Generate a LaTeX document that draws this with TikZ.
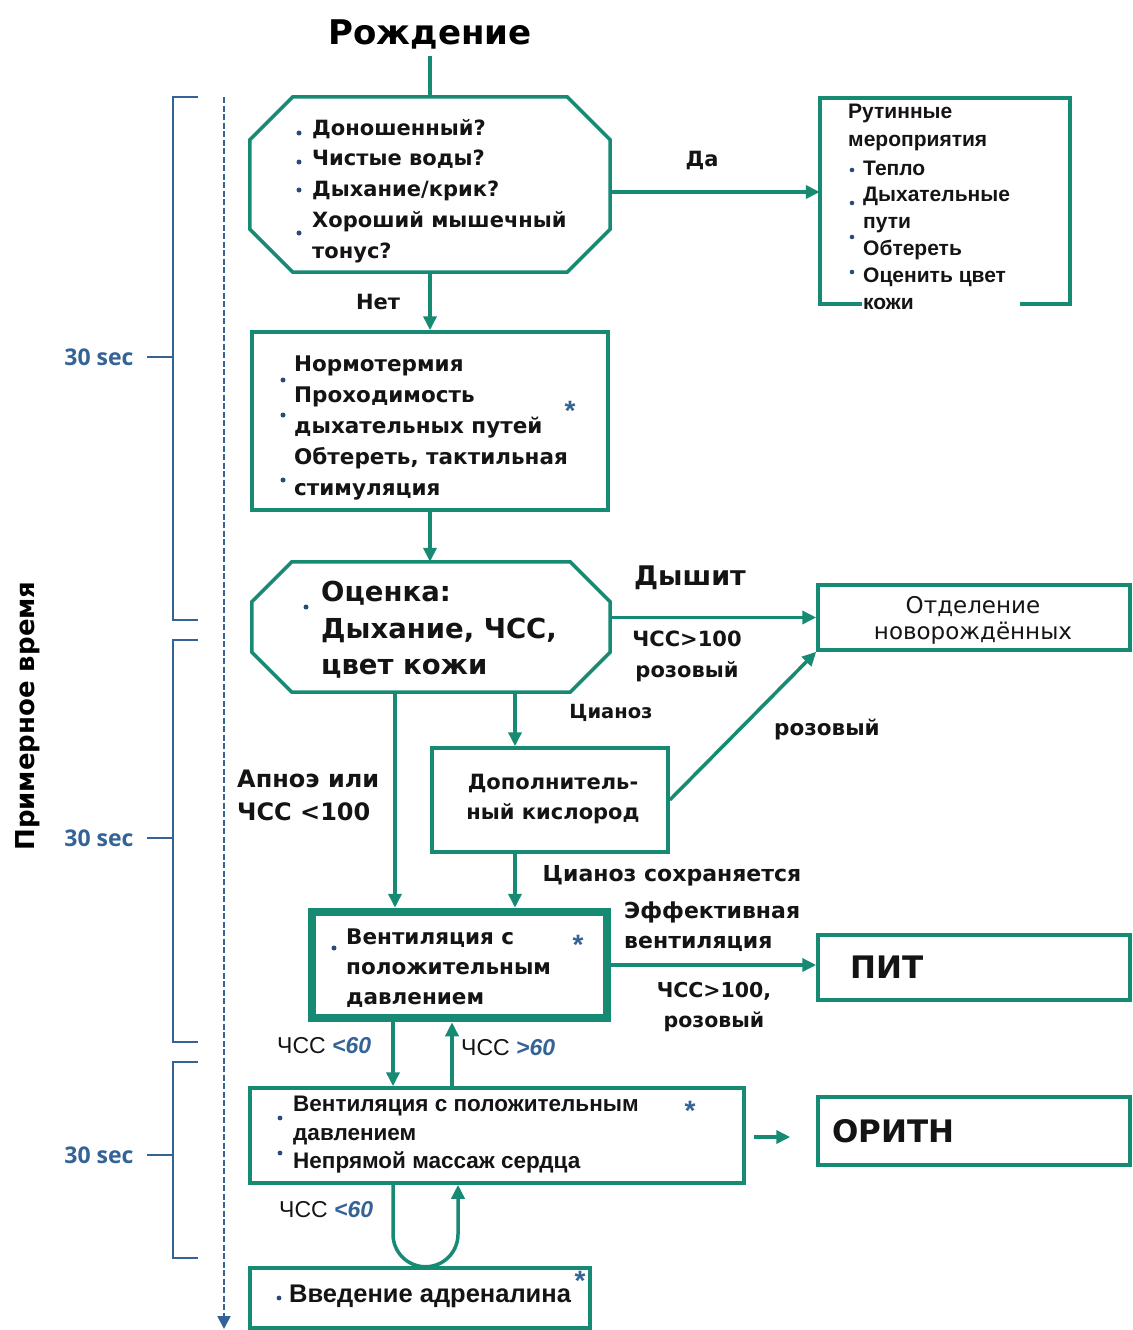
\documentclass[tikz,border=0pt]{standalone}
\usepackage{fontspec}
\setmainfont{DejaVu Sans}
\newfontfamily\lib{Liberation Sans}
\newfontfamily\secfont{Open Sans}
\usetikzlibrary{arrows.meta,calc}
\definecolor{gr}{RGB}{22,138,114}
\definecolor{bl}{RGB}{52,100,150}
\definecolor{dotc}{RGB}{40,75,120}
\newcommand\myfs[2]{\fontsize{#1pt}{#2pt}\selectfont}
\begin{document}
\begin{tikzpicture}[x=1pt,y=-1pt,
  arr/.style={draw=gr,line width=3.5pt,-{Triangle[length=14pt,width=13pt]}},
  ln/.style={draw=gr,line width=3.5pt},
  frame/.style={rectangle,draw=gr,line width=3.5pt,inner sep=0pt},
  ghost/.style={rectangle,draw=none,inner sep=0pt},
  txt/.style={inner sep=0pt,align=left,anchor=west,text=black!92},
  ctxt/.style={inner sep=0pt,align=center,text=black!92},
  bul/.style={fill=dotc},
  ast/.style={text=bl,font=\lib\bfseries\myfs{28}{28},inner sep=0pt},
  brk/.style={draw=bl,line width=2.8pt},
  sec/.style={text=bl,font=\secfont\bfseries\myfs{23}{23},inner sep=0pt}
]
\useasboundingbox[fill=white] (0,0) rectangle (1132,1330);

% ---------- timeline ----------
\coordinate (t0) at (224,97);
\coordinate (t1) at (224,1329);
\draw[draw=bl,line width=2.4pt,dash pattern=on 6pt off 2.5pt,-{Triangle[length=13pt,width=13pt]}] (t0) -- (t1);
\draw[brk] (198,97) -- (173,97) -- (173,620) -- (198,620);
\draw[brk] (147,357) -- (173,357);
\draw[brk] (198,640) -- (173,640) -- (173,1042) -- (198,1042);
\draw[brk] (147,838) -- (173,838);
\draw[brk] (198,1062) -- (173,1062) -- (173,1258) -- (198,1258);
\draw[brk] (147,1155) -- (173,1155);
\node[sec] (s1) at (99,357) {30 sec};
\node[sec] (s2) at (99,838) {30 sec};
\node[sec] (s3) at (99,1155) {30 sec};
\node[inner sep=0pt,rotate=90,font=\bfseries\myfs{26}{26}] (tm) at (28,716) {Примерное время};

% ---------- title ----------
\node[inner sep=2pt,font=\bfseries\myfs{34}{34}] (birth) at (430,34) {Рождение};

% ---------- box 1 (octagon) ----------
\node[ghost,minimum width=360pt,minimum height=175pt] (q) at (430,184.5) {};
\draw[ln] ([xshift=43pt]q.north west) -- ([xshift=-43pt]q.north east) -- ([yshift=-43pt]q.north east)
  -- ([yshift=43pt]q.south east) -- ([xshift=-43pt]q.south east) -- ([xshift=43pt]q.south west)
  -- ([yshift=43pt]q.south west) -- ([yshift=-43pt]q.north west) -- cycle;
\node[txt,font=\bfseries\myfs{21}{30.8}] (qt) at (312,191) {Доношенный?\\Чистые воды?\\Дыхание/крик?\\Хороший мышечный\\тонус?};
\foreach \yy in {133,162,190,233} \fill[bul] (299,\yy) circle (2.5pt);

% ---------- box 2 routine ----------
\node[ghost,minimum width=250pt,minimum height=206pt] (routine) at (945,201) {};
\draw[ln] ([xshift=42pt]routine.south west) -- (routine.south west) -- (routine.north west)
  -- (routine.north east) -- (routine.south east) -- ([xshift=-50pt]routine.south east);
\node[txt,font=\lib\bfseries\myfs{21}{28.5}] (rh) at (848,127.5) {Рутинные\\мероприятия};
\node[txt,font=\lib\bfseries\myfs{21}{26.8}] (ri) at (863,235) {Тепло\\Дыхательные\\пути\\Обтереть\\Оценить цвет\\кожи};
\foreach \yy in {170,203,237,272} \fill[bul] (852,\yy) circle (2.3pt);

% ---------- box 3 ----------
\node[frame,minimum width=356pt,minimum height=178pt] (steps) at (430,421) {};
\node[txt,font=\bfseries\myfs{21.5}{31}] (st) at (294,428) {Нормотермия\\Проходимость\\дыхательных путей\\Обтереть, тактильная\\стимуляция};
\foreach \yy in {380,415,480} \fill[bul] (283,\yy) circle (2.5pt);
\node[ast] (a1) at (570,411) {*};

% ---------- box 4 evaluation (octagon) ----------
\node[ghost,minimum width=358pt,minimum height=130pt] (eval) at (431,627) {};
\draw[ln] ([xshift=40pt]eval.north west) -- ([xshift=-40pt]eval.north east) -- ([yshift=-40pt]eval.north east)
  -- ([yshift=40pt]eval.south east) -- ([xshift=-40pt]eval.south east) -- ([xshift=40pt]eval.south west)
  -- ([yshift=40pt]eval.south west) -- ([yshift=-40pt]eval.north west) -- cycle;
\node[txt,font=\bfseries\myfs{27.5}{36.5}] (et) at (321,630) {Оценка:\\Дыхание, ЧСС,\\цвет кожи};
\fill[bul] (306,607) circle (2.5pt);

% ---------- box 5 nicu ----------
\node[frame,minimum width=312pt,minimum height=65pt] (nicu) at (974,617.5) {};
\node[ctxt,font=\myfs{23}{26}] (nt) at (973,620) {Отделение\\новорождённых};

% ---------- box O2 ----------
\node[frame,minimum width=236pt,minimum height=104pt] (oxy) at (550,800) {};
\node[ctxt,font=\bfseries\myfs{21}{30}] (ot) at (553,799) {Дополнитель-\\ный кислород};

% ---------- box 6 PPV ----------
\node[rectangle,draw=gr,line width=8.5pt,inner sep=0pt,minimum width=295pt,minimum height=106pt] (ppv) at (459.5,965) {};
\node[txt,font=\bfseries\myfs{21.5}{30}] (pt) at (346,968) {Вентиляция с\\положительным\\давлением};
\fill[bul] (334,948) circle (2.5pt);
\node[ast] (a2) at (578,945) {*};

% ---------- box 7 PIT ----------
\node[frame,minimum width=312pt,minimum height=65pt] (pit) at (974,967.5) {};
\node[txt,font=\bfseries\myfs{31}{31}] (pitt) at (850,967) {ПИТ};

% ---------- box 8 CPR ----------
\node[frame,minimum width=494pt,minimum height=95pt] (cpr) at (497,1135.5) {};
\node[txt,font=\lib\bfseries\myfs{22.5}{28.5}] (ct) at (293,1135) {Вентиляция с положительным\\давлением\\Непрямой массаж сердца};
\fill[bul] (280,1118) circle (2.4pt);
\fill[bul] (280,1153) circle (2.4pt);
\node[ast] (a3) at (690,1111) {*};

% ---------- box 9 ORIT ----------
\node[frame,minimum width=312pt,minimum height=68pt] (orit) at (974,1131) {};
\node[txt,font=\bfseries\myfs{31}{31}] (oritt) at (832,1131) {ОРИТН};

% ---------- box 10 adrenaline ----------
\node[frame,minimum width=340pt,minimum height=60pt] (adr) at (420,1298) {};
\node[txt,font=\lib\bfseries\myfs{25.5}{25.5}] (adt) at (289,1296) {Введение адреналина};
\fill[bul] (279,1298) circle (2.4pt);
\node[ast] (a4) at (580,1281) {*};

% ---------- connectors ----------
\draw[ln] ([yshift=-5pt]birth.south) -- (q.north);
\draw[arr] ([yshift=-7.5pt]q.east) -- ([yshift=-7.5pt]q.east -| routine.west);
\draw[arr] (q.south) -- (steps.north);
\draw[arr] (steps.south) -- (steps.south |- eval.north);
\draw[arr] (eval.east |- nicu.west) -- (nicu.west);
\draw[arr] ([xshift=-36pt]eval.south) -- ([xshift=-36pt]eval.south |- ppv.north);
\draw[arr] ([xshift=84pt]eval.south) -- ([xshift=84pt]eval.south |- oxy.north);
\draw[arr] (oxy.east) -- (nicu.south west);
\draw[arr] ([xshift=-35pt]oxy.south) -- ([xshift=-35pt]oxy.south |- ppv.north);
\draw[arr] (ppv.east) -- (ppv.east -| pit.west);
\draw[arr] ([xshift=-66.5pt]ppv.south) -- ([xshift=-66.5pt]ppv.south |- cpr.north);
\draw[arr] ([xshift=-7.5pt]ppv.south |- cpr.north) -- ([xshift=-7.5pt]ppv.south);
\draw[arr] ([xshift=8pt,yshift=-1.5pt]cpr.east) -- ([xshift=-26pt,yshift=-1.5pt]cpr.east -| orit.west);
\draw[arr] ([xshift=-104pt]cpr.south) -- ++(0,49.5) arc[start angle=180,end angle=360,radius=32.5pt] -- ([xshift=-39pt]cpr.south);

% ---------- labels ----------
\node[ctxt,font=\bfseries\myfs{21}{21}] (lyes) at (702,160) {Да};
\node[ctxt,font=\bfseries\myfs{21}{21}] (lno) at (378,302) {Нет};
\node[ctxt,font=\bfseries\myfs{27}{27}] (lbr) at (690,578) {Дышит};
\node[ctxt,font=\bfseries\myfs{21}{31}] (lhr) at (687,656.5) {ЧСС>100\\розовый};
\node[ctxt,font=\bfseries\myfs{19.5}{19.5}] (lcy) at (611,713) {Цианоз};
\node[ctxt,font=\bfseries\myfs{21.5}{21.5}] (lpink) at (827,730) {розовый};
\node[txt,font=\bfseries\myfs{24}{33}] (lap) at (237,795.5) {Апноэ или\\ЧСС <100};
\node[ctxt,font=\bfseries\myfs{22}{22}] (lcp) at (672,876) {Цианоз сохраняется};
\node[txt,font=\bfseries\myfs{22}{30}] (lef) at (624,927) {Эффективная\\вентиляция};
\node[ctxt,font=\bfseries\myfs{20.5}{30}] (lhr2) at (714,1007) {ЧСС>100,\\розовый};
\node[txt,font=\lib\myfs{23}{23}] (l60a) at (277,1046) {ЧСС \textcolor{bl}{\bfseries\itshape <60}};
\node[txt,font=\lib\myfs{23}{23}] (l60b) at (461,1048) {ЧСС \textcolor{bl}{\bfseries\itshape >60}};
\node[txt,font=\lib\myfs{23}{23}] (l60c) at (279,1210) {ЧСС \textcolor{bl}{\bfseries\itshape <60}};
\end{tikzpicture}
\end{document}
